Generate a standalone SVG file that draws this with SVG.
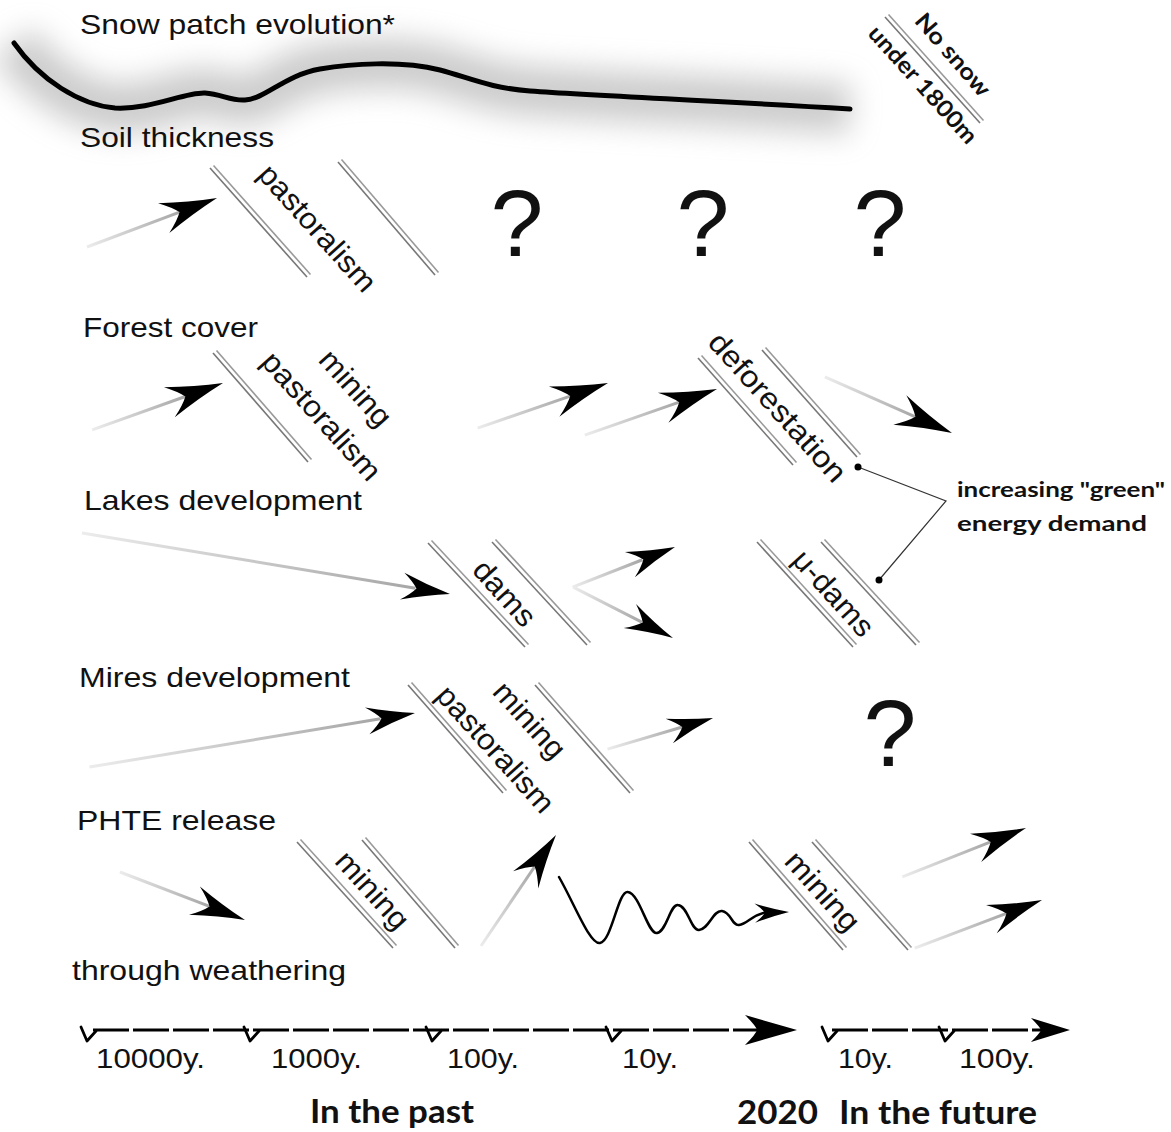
<svg xmlns="http://www.w3.org/2000/svg" xmlns:xlink="http://www.w3.org/1999/xlink" width="1171" height="1132" viewBox="0 0 1171 1132">
<defs>
<style>
.h{font-family:"Liberation Sans",Arial,sans-serif;font-size:28px;fill:#111}
.r{font-family:"Liberation Sans",Arial,sans-serif;font-size:30px;fill:#111;text-anchor:middle}
.q{font-family:"Liberation Sans",Arial,sans-serif;font-size:95px;fill:#111;text-anchor:middle}
.g{font-family:Lato,"Open Sans",sans-serif;fill:#111}
.t{font-family:"Liberation Sans",Arial,sans-serif;font-size:28px;fill:#111}
.dl{stroke:#777;stroke-width:1.6;fill:none}
.dl2{stroke:#999;stroke-width:1.6;fill:none}
.tl{stroke:#000;stroke-width:2.8;fill:none;stroke-dasharray:36 4}
.tk{stroke:#000;stroke-width:2.8;fill:none;stroke-linejoin:round;stroke-linecap:round}
</style>
<linearGradient id="sg" x1="0" y1="0" x2="1" y2="0">
<stop offset="0" stop-color="#ececec"/>
<stop offset="1" stop-color="#a6a6a6"/>
</linearGradient>
<filter id="blur" x="-20%" y="-100%" width="140%" height="300%">
<feGaussianBlur stdDeviation="15"/>
</filter>
<path id="ah" d="M0,0 Q-28,-6 -57,-16 Q-45,-7 -40,0 Q-45,7 -57,16 Q-28,6 0,0 Z" fill="#000"/>
</defs>
<rect width="1171" height="1132" fill="#fff"/>

<!-- snow patch curve -->
<g id="snow">
<path d="M14,43 C40,80 80,105 115,108 C150,110 185,92 205,93 C222,94 230,101 245,100 C265,99 285,75 320,69 C350,64 400,60 440,70 C470,78 490,88 530,91 C600,96 700,100 850,109" stroke="#9a9a9a" stroke-width="50" fill="none" opacity="0.5" filter="url(#blur)"/>
<path d="M14,43 C40,80 80,105 115,108 C150,110 185,92 205,93 C222,94 230,101 245,100 C265,99 285,75 320,69 C350,64 400,60 440,70 C470,78 490,88 530,91 C600,96 700,100 850,109" stroke="#000" stroke-width="5" fill="none" stroke-linecap="round"/>
</g>

<!-- row headings -->
<g id="headings">
<text class="h" x="80" y="34" textLength="315" lengthAdjust="spacingAndGlyphs">Snow patch evolution*</text>
<text class="h" x="80" y="147" textLength="194" lengthAdjust="spacingAndGlyphs">Soil thickness</text>
<text class="h" x="83" y="337" textLength="175" lengthAdjust="spacingAndGlyphs">Forest cover</text>
<text class="h" x="84" y="510" textLength="278" lengthAdjust="spacingAndGlyphs">Lakes development</text>
<text class="h" x="79" y="687" textLength="271" lengthAdjust="spacingAndGlyphs">Mires development</text>
<text class="h" x="77" y="830" textLength="199" lengthAdjust="spacingAndGlyphs">PHTE release</text>
<text class="h" x="72" y="980" textLength="274" lengthAdjust="spacingAndGlyphs">through weathering</text>
</g>

<!-- no snow barrier -->
<g id="nosnow">
<line class="dl" x1="885" y1="17" x2="980" y2="123"/>
<line class="dl2" x1="888.5" y1="14.5" x2="983.5" y2="120.5"/>
<text class="g" font-size="23" font-weight="bold" text-anchor="middle" transform="translate(947,60) rotate(49)" textLength="102" lengthAdjust="spacingAndGlyphs">No snow</text>
<text class="g" font-size="23" font-weight="bold" text-anchor="middle" transform="translate(917,90) rotate(48)" textLength="150" lengthAdjust="spacingAndGlyphs">under 1800m</text>
</g>

<!-- barriers (double lines) -->
<g id="barriers">
<g id="b-soil-1"><line class="dl" x1="210" y1="168" x2="307" y2="277"/><line class="dl2" x1="213.5" y1="165.5" x2="310.5" y2="274.5"/></g>
<g id="b-soil-2"><line class="dl" x1="338" y1="162" x2="435" y2="275"/><line class="dl2" x1="341.5" y1="159.5" x2="438.5" y2="272.5"/></g>
<g id="b-forest-1"><line class="dl" x1="213" y1="353" x2="308" y2="462"/><line class="dl2" x1="216.5" y1="350.5" x2="311.5" y2="459.5"/></g>
<g id="b-forest-2"><line class="dl" x1="698" y1="358" x2="793" y2="465"/><line class="dl2" x1="701.5" y1="355.5" x2="796.5" y2="462.5"/></g>
<g id="b-forest-3"><line class="dl" x1="762" y1="350" x2="857" y2="457"/><line class="dl2" x1="765.5" y1="347.5" x2="860.5" y2="454.5"/></g>
<g id="b-lakes-1"><line class="dl" x1="428" y1="543" x2="525" y2="647"/><line class="dl2" x1="431.5" y1="540.5" x2="528.5" y2="644.5"/></g>
<g id="b-lakes-2"><line class="dl" x1="492" y1="542" x2="587" y2="645"/><line class="dl2" x1="495.5" y1="539.5" x2="590.5" y2="642.5"/></g>
<g id="b-lakes-3"><line class="dl" x1="757" y1="542" x2="853" y2="647"/><line class="dl2" x1="760.5" y1="539.5" x2="856.5" y2="644.5"/></g>
<g id="b-lakes-4"><line class="dl" x1="821" y1="542" x2="916" y2="645"/><line class="dl2" x1="824.5" y1="539.5" x2="919.5" y2="642.5"/></g>
<g id="b-mires-1"><line class="dl" x1="408" y1="685" x2="503" y2="793"/><line class="dl2" x1="411.5" y1="682.5" x2="506.5" y2="790.5"/></g>
<g id="b-mires-2"><line class="dl" x1="535" y1="685" x2="630" y2="793"/><line class="dl2" x1="538.5" y1="682.5" x2="633.5" y2="790.5"/></g>
<g id="b-phte-1"><line class="dl" x1="297" y1="842" x2="393" y2="948"/><line class="dl2" x1="300.5" y1="839.5" x2="396.5" y2="945.5"/></g>
<g id="b-phte-2"><line class="dl" x1="362" y1="840" x2="455" y2="948"/><line class="dl2" x1="365.5" y1="837.5" x2="458.5" y2="945.5"/></g>
<g id="b-phte-3"><line class="dl" x1="749" y1="842" x2="843" y2="950"/><line class="dl2" x1="752.5" y1="839.5" x2="846.5" y2="947.5"/></g>
<g id="b-phte-4"><line class="dl" x1="812" y1="842" x2="908" y2="950"/><line class="dl2" x1="815.5" y1="839.5" x2="911.5" y2="947.5"/></g>
</g>

<!-- rotated labels -->
<g id="labels">
<text class="r" transform="translate(310,235) rotate(48)" textLength="160" lengthAdjust="spacingAndGlyphs">pastoralism</text>
<text class="r" transform="translate(348,395) rotate(48)" textLength="92" lengthAdjust="spacingAndGlyphs">mining</text>
<text class="r" transform="translate(314,423) rotate(48)" textLength="162" lengthAdjust="spacingAndGlyphs">pastoralism</text>
<text class="r" transform="translate(770,414) rotate(48)" textLength="190" lengthAdjust="spacingAndGlyphs">deforestation</text>
<text class="r" transform="translate(497,600) rotate(48)" textLength="78" lengthAdjust="spacingAndGlyphs">dams</text>
<text class="r" transform="translate(826,600) rotate(48)" textLength="105" lengthAdjust="spacingAndGlyphs">μ-dams</text>
<text class="r" transform="translate(522,727) rotate(48)" textLength="92" lengthAdjust="spacingAndGlyphs">mining</text>
<text class="r" transform="translate(488,756) rotate(48)" textLength="160" lengthAdjust="spacingAndGlyphs">pastoralism</text>
<text class="r" transform="translate(365,897) rotate(48)" textLength="94" lengthAdjust="spacingAndGlyphs">mining</text>
<text class="r" transform="translate(815,898) rotate(48)" textLength="96" lengthAdjust="spacingAndGlyphs">mining</text>
</g>

<!-- question marks -->
<g id="questions">
<text class="q" x="517" y="256">?</text>
<text class="q" x="703" y="256">?</text>
<text class="q" x="880" y="256">?</text>
<text class="q" x="890" y="766">?</text>
</g>

<!-- green energy note -->
<g id="note">
<text class="g" font-size="21" font-weight="bold" x="957" y="497" textLength="208" lengthAdjust="spacingAndGlyphs">increasing "green"</text>
<text class="g" font-size="21" font-weight="bold" x="957" y="531" textLength="190" lengthAdjust="spacingAndGlyphs">energy demand</text>
</g>

<!-- connectors -->
<g id="connectors">
<g transform="translate(217,198) rotate(-20.65)"><rect x="-139" y="-1.5" width="99" height="3" fill="url(#sg)"/><use href="#ah"/></g>
<g transform="translate(223,383) rotate(-19.73)"><rect x="-139" y="-1.5" width="99" height="3" fill="url(#sg)"/><use href="#ah"/></g>
<g transform="translate(608,383) rotate(-19.09)"><rect x="-138" y="-1.5" width="98" height="3" fill="url(#sg)"/><use href="#ah"/></g>
<g transform="translate(717,389) rotate(-19.21)"><rect x="-140" y="-1.5" width="100" height="3" fill="url(#sg)"/><use href="#ah"/></g>
<g transform="translate(952,433) rotate(23.8)"><rect x="-139" y="-1.5" width="99" height="3" fill="url(#sg)"/><use href="#ah"/></g>
<g transform="translate(450,594) rotate(9.41)"><rect x="-373" y="-1.5" width="338" height="3" fill="url(#sg)"/><use href="#ah" transform="scale(0.85)"/></g>
<g transform="translate(675,547) rotate(-21.4)"><rect x="-110" y="-1.5" width="75" height="3" fill="url(#sg)"/><use href="#ah" transform="scale(0.85)"/></g>
<g transform="translate(673,638) rotate(27)"><rect x="-112" y="-1.5" width="77" height="3" fill="url(#sg)"/><use href="#ah" transform="scale(0.85)"/></g>
<g transform="translate(415,713) rotate(-9.43)"><rect x="-330" y="-1.5" width="295" height="3" fill="url(#sg)"/><use href="#ah" transform="scale(0.85)"/></g>
<g transform="translate(713,718) rotate(-16.45)"><rect x="-110" y="-1.5" width="78" height="3" fill="url(#sg)"/><use href="#ah" transform="scale(0.8)"/></g>
<g transform="translate(245,920) rotate(21)"><rect x="-134" y="-1.5" width="96" height="3" fill="url(#sg)"/><use href="#ah" transform="scale(0.95)"/></g>
<g transform="translate(556,835) rotate(-55.95)"><rect x="-134" y="-1.5" width="96" height="3" fill="url(#sg)"/><use href="#ah" transform="scale(0.95)"/></g>
<g transform="translate(1026,828) rotate(-21.57)"><rect x="-133" y="-1.5" width="95" height="3" fill="url(#sg)"/><use href="#ah" transform="scale(0.95)"/></g>
<g transform="translate(1042,900) rotate(-20.7)"><rect x="-136" y="-1.5" width="98" height="3" fill="url(#sg)"/><use href="#ah" transform="scale(0.95)"/></g>
<path d="M559,877 C575,905 590,945 600,943 C612,941 618,890 628,892 C640,894 648,935 657,933 C667,931 670,904 678,905 C688,906 691,931 699,930 C709,929 713,910 722,911 C731,912 732,926 739,925 C748,924 752,914 768,912" stroke="#000" stroke-width="2.5" fill="none" stroke-linecap="round"/>
<g transform="translate(789,912) rotate(-2)"><use href="#ah" transform="scale(0.6)"/></g>
<g id="note-lines">
<polyline points="858,467 946,501 879,580" stroke="#333" stroke-width="1.2" fill="none"/>
<circle cx="858" cy="467" r="3.5" fill="#000"/>
<circle cx="879" cy="580" r="3.5" fill="#000"/>
</g>
</g>

<!-- timeline -->
<g id="timeline">
<line class="tl" x1="93" y1="1030" x2="760" y2="1030"/>
<path d="M797,1030 L745,1015 Q756,1026 757,1030 Q756,1034 745,1045 Z" fill="#000"/>
<line class="tl" x1="832" y1="1030" x2="1045" y2="1030" stroke-dasharray="32 4"/>
<path d="M1070,1030 L1031,1018 Q1040,1027 1041,1030 Q1040,1033 1031,1042 Z" fill="#000"/>
<path class="tk" d="M81,1027 L87,1041 L96,1031"/>
<path class="tk" d="M244,1027 L250,1041 L259,1031"/>
<path class="tk" d="M426,1027 L432,1041 L441,1031"/>
<path class="tk" d="M606,1027 L612,1041 L621,1031"/>
<path class="tk" d="M822,1027 L828,1041 L837,1031"/>
<path class="tk" d="M939,1027 L945,1041 L954,1031"/>
<text class="t" x="96" y="1068" textLength="109" lengthAdjust="spacingAndGlyphs">10000y.</text>
<text class="t" x="271" y="1068" textLength="91" lengthAdjust="spacingAndGlyphs">1000y.</text>
<text class="t" x="447" y="1068" textLength="72" lengthAdjust="spacingAndGlyphs">100y.</text>
<text class="t" x="622" y="1068" textLength="56" lengthAdjust="spacingAndGlyphs">10y.</text>
<text class="t" x="838" y="1068" textLength="55" lengthAdjust="spacingAndGlyphs">10y.</text>
<text class="t" x="959" y="1068" textLength="76" lengthAdjust="spacingAndGlyphs">100y.</text>
<text class="g" font-size="32" font-weight="bold" x="310" y="1123" textLength="164" lengthAdjust="spacingAndGlyphs">In the past</text>
<text class="g" font-size="32" font-weight="bold" x="737" y="1124" textLength="81" lengthAdjust="spacingAndGlyphs">2020</text>
<text class="g" font-size="32" font-weight="bold" x="839" y="1124" textLength="198" lengthAdjust="spacingAndGlyphs">In the future</text>
</g>
</svg>
